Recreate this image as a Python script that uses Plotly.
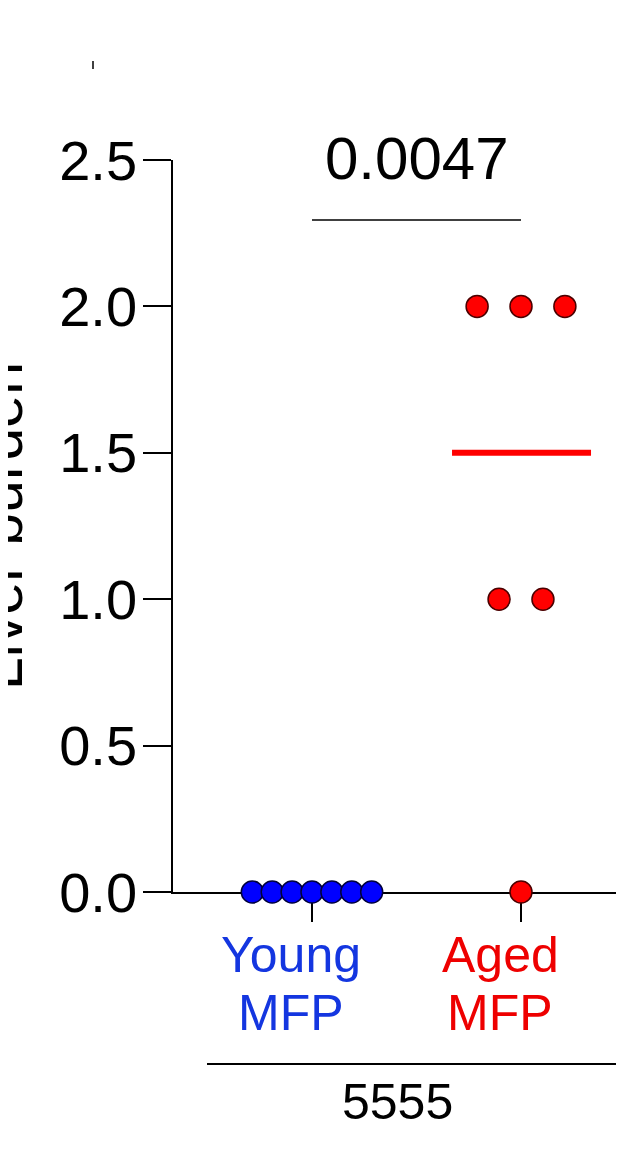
import plotly.graph_objects as go
import numpy as np

# ---- data ----
groups = ["Young MFP", "Aged MFP"]
group_lines = [["Young", "MFP"], ["Aged", "MFP"]]
young_values = [0, 0, 0, 0, 0, 0, 0]
aged_values = [2, 2, 2, 1, 1, 0]
p_value_text = "0.0047"
y_ticks = [0.0, 0.5, 1.0, 1.5, 2.0, 2.5]
y_title = "Liver burden"
x_group_label = "5555"

# ---- style / layout (screen px of the reference; page has an 8px body margin) ----
OFF = 8
W, H = 624 - 2 * OFF, 1155 - 2 * OFF
AX_L, AX_R, AX_T, AX_B = 173, 616, 160, 892          # plot area in screen px
L, T = AX_L - OFF, AX_T - OFF
R, B = W - (AX_R - OFF), H - (AX_B - OFF)
FONT = "Liberation Sans, Arial, sans-serif"
NARROW = "Liberation Sans Narrow, Arial Narrow, Liberation Sans, Arial, sans-serif"
dot_fill = ["#0000FF", "#FF0000"]
dot_edge = ["#00003C", "#4A0000"]
label_col = ["#1436E0", "#EE0000"]
spacing = [0.0952, 0.21]
CAT_PX = [312, 521]
UNIT = CAT_PX[1] - CAT_PX[0]


def px_x(sx):
    return (sx - AX_L) / (AX_R - AX_L)


def px_y(sy):
    return (AX_B - sy) / (AX_B - AX_T)


def swarm(values, center, step):
    vals = np.array(values, dtype=float)
    out = np.zeros(len(vals))
    for v in np.unique(vals):
        idx = np.where(vals == v)[0]
        n = len(idx)
        out[idx] = center + (np.arange(n) - (n - 1) / 2) * step
    return out


fig = go.Figure()
all_vals = [young_values, aged_values]
for i, vals in enumerate(all_vals):
    med = float(np.median(vals))
    fig.add_trace(go.Scatter(
        x=[i - 0.33, i + 0.335], y=[med, med], mode="lines",
        line=dict(color=dot_fill[i], width=6), hoverinfo="skip",
        showlegend=False, cliponaxis=False))
for i, vals in enumerate(all_vals):
    fig.add_trace(go.Scatter(
        x=swarm(vals, i, spacing[i]), y=vals, mode="markers",
        marker=dict(size=22, color=dot_fill[i],
                    line=dict(color=dot_edge[i], width=1.5)),
        showlegend=False, cliponaxis=False, name=groups[i]))

# significance bar
fig.add_shape(type="line", xref="x", yref="y", x0=0, x1=1, y0=2.295, y1=2.295,
              line=dict(color="black", width=1.5))
fig.add_annotation(xref="x", yref="paper", x=0.5, y=px_y(159),
                   text=p_value_text, showarrow=False, xanchor="center",
                   yanchor="middle", font=dict(family=NARROW, size=60, color="black"))

# category labels
label_x = [291, 500]
for i, lines in enumerate(group_lines):
    for txt, yc in zip(lines, [955, 1013]):
        fig.add_annotation(xref="paper", yref="paper", x=px_x(label_x[i]), y=px_y(yc),
                           text=txt, showarrow=False, xanchor="center", yanchor="middle",
                           font=dict(family=FONT, size=50, color=label_col[i]))

# group line and label
fig.add_shape(type="line", xref="paper", yref="paper", x0=px_x(207), x1=px_x(640),
              y0=px_y(1064), y1=px_y(1064), line=dict(color="black", width=2))
fig.add_annotation(xref="paper", yref="paper", x=px_x(397), y=px_y(1102),
                   text=x_group_label, showarrow=False, xanchor="center", yanchor="middle",
                   font=dict(family=FONT, size=50, color="black"))

# y title (partly cut off at the left edge, as in the reference)
fig.add_annotation(xref="paper", yref="paper", x=px_x(37), y=px_y(526),
                   text=y_title, showarrow=False, textangle=-90,
                   xanchor="right", yanchor="middle",
                   font=dict(family=FONT, size=59, color="black"))

# small mark at top
fig.add_shape(type="line", xref="paper", yref="paper", x0=px_x(93), x1=px_x(93),
              y0=px_y(61), y1=px_y(69), line=dict(color="black", width=1.5))

fig.update_layout(
    width=W, height=H, margin=dict(l=L, r=R, t=T, b=B, pad=0),
    paper_bgcolor="white", plot_bgcolor="white",
    font=dict(family=FONT, color="black"),
    xaxis=dict(range=[(AX_L - CAT_PX[0]) / UNIT, (AX_R - CAT_PX[0]) / UNIT], tickvals=[0, 1],
               showticklabels=False, ticks="outside", ticklen=28, tickwidth=1.5,
               tickcolor="black", showline=True, linecolor="black", linewidth=1.5,
               showgrid=False, zeroline=False, layer="below traces", fixedrange=True),
    yaxis=dict(range=[0, 2.5], tickvals=y_ticks, ticktext=[f"{v:.1f}" for v in y_ticks],
               ticks="outside", ticklen=28, tickwidth=1.5, tickcolor="black",
               showline=True, linecolor="black", linewidth=1.5, showgrid=False,
               zeroline=False, tickfont=dict(family=FONT, size=56, color="black"),
               ticklabelstandoff=-5,
               layer="below traces", fixedrange=True),
)

fig.write_html("out.html")
